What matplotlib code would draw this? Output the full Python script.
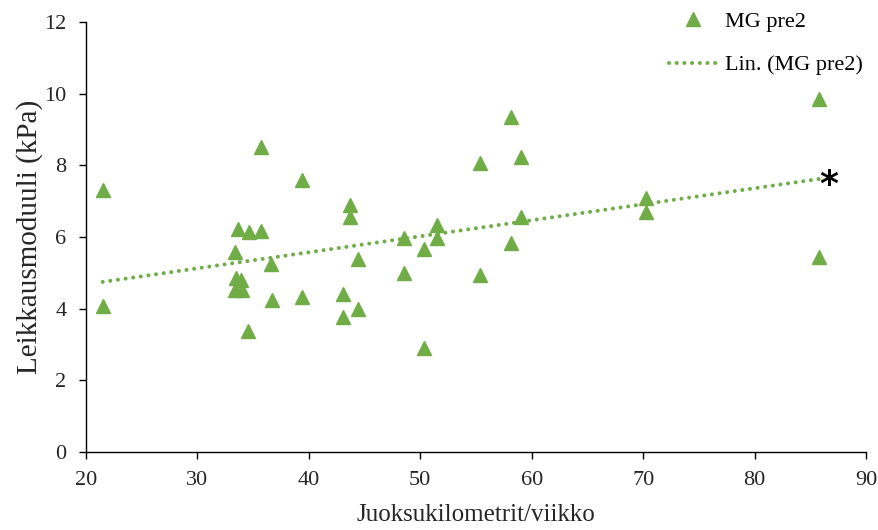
import numpy as np
import matplotlib
matplotlib.use("Agg")
import matplotlib.pyplot as plt

plt.rcParams['font.family'] = ['Liberation Serif', 'DejaVu Serif']

# Data
km_per_week = [21.5, 21.5,
               33.6, 34.6, 35.7, 35.7, 33.4, 36.6, 33.5, 33.9, 33.4, 34.0, 36.7, 34.5,
               39.4, 39.4,
               43.7, 43.7, 44.4, 43.1, 44.4, 43.1,
               48.5, 51.5, 51.5, 50.3, 48.5, 50.3,
               58.1, 55.4, 59.0, 59.0, 58.1, 55.4,
               70.3, 70.3,
               85.8, 85.8]
shear_modulus = [7.31, 4.07,
                 6.23, 6.13, 6.18, 8.51, 5.57, 5.25, 4.86, 4.80, 4.52, 4.52, 4.24, 3.39,
                 7.59, 4.33,
                 6.89, 6.57, 5.38, 4.41, 3.98, 3.78,
                 5.96, 6.34, 5.96, 5.66, 4.99, 2.89,
                 9.36, 8.06, 8.24, 6.57, 5.84, 4.94,
                 7.08, 6.71,
                 9.84, 5.45]

x_ticks = [20, 30, 40, 50, 60, 70, 80, 90]
y_ticks = [0, 2, 4, 6, 8, 10, 12]
series_label = "MG pre2"
trend_label = "Lin. (MG pre2)"
x_label = "Juoksukilometrit/viikko"
y_label = "Leikkausmoduuli (kPa)"
star_pos = (86.7, 7.64)

green = '#70AD47'

fig = plt.figure(figsize=(8.79, 5.30), dpi=100)
ax = fig.add_axes([86/879, (530-452)/530, (866-86)/879, (452-22)/530])

x = np.array(km_per_week)
y = np.array(shear_modulus)
ax.plot(x, y, linestyle='none', marker='^', markersize=10.5, color=green,
        markeredgecolor=green, label=series_label, zorder=3)

coef = np.polyfit(x, y, 1)
xt = np.array([x.min(), x.max()])
ax.plot(xt, np.polyval(coef, xt), linestyle=(0, (0.01, 1.9)), linewidth=2.9,
        color=green, dash_capstyle='round', label=trend_label, zorder=2)

ax.annotate('*', xy=star_pos, xytext=(0, -5), textcoords='offset points',
            fontsize=26, fontweight='bold', ha='center', va='center',
            family='DejaVu Sans')

ax.set_xlim(20, 90)
ax.set_ylim(0, 12)
ax.set_xticks(x_ticks)
ax.set_yticks(y_ticks)
ax.tick_params(axis='both', direction='out', length=5, width=1, labelsize=16,
               color='black', labelcolor='#262626', pad=9)
for s in ['top', 'right']:
    ax.spines[s].set_visible(False)
for s in ['left', 'bottom']:
    ax.spines[s].set_color('black')
    ax.spines[s].set_linewidth(1.0)

ax.set_xlabel(x_label, fontsize=18, color='#262626', labelpad=10)
ax.set_ylabel(y_label, fontsize=21, color='#262626', labelpad=1)

leg = ax.legend(loc='upper left', bbox_to_anchor=((669-86)/780, (452-11)/430),
                frameon=False, fontsize=16, handlelength=2.2, handletextpad=0.3,
                labelspacing=1.05, borderaxespad=0, borderpad=0)

fig.savefig('out.png', dpi=100)
